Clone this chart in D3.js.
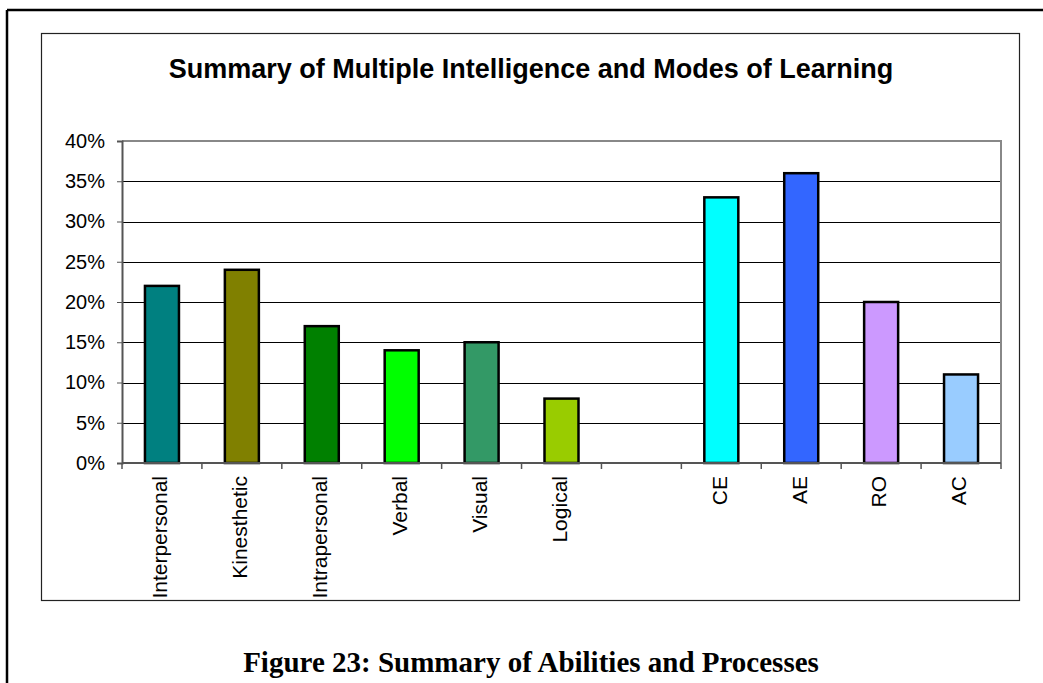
<!DOCTYPE html>
<html>
<head>
<script src="https://d3js.org/d3.v7.min.js" charset="utf-8"></script>
<style>
    body { margin: 0; background: #fff; }
    text { font-family: "Liberation Sans", Arial, sans-serif; }
</style>
</head>
<body>
<script>
    // data (blank slot separates the two groups)
    var categories = ["Interpersonal", "Kinesthetic", "Intrapersonal", "Verbal", "Visual", "Logical", "", "CE", "AE", "RO", "AC"];
    var values = [22, 24, 17, 14, 15, 8, null, 33, 36, 20, 11];
    var colors = ["#008080", "#808000", "#008000", "#00ff00", "#339966", "#99cc00", null, "#00ffff", "#3366ff", "#cc99ff", "#99ccff"];
    var yTicks = [0, 5, 10, 15, 20, 25, 30, 35, 40];

    var wid = 1043, hgt = 683;
    var pLeft = 122, pRight = 1001, pTop = 141, pBottom = 463;

    var svg = d3.select("body").append("svg")
        .attr("width", wid)
        .attr("height", hgt);

    // page frame
    svg.append("line").attr("x1", 7).attr("x2", wid).attr("y1", 10).attr("y2", 10)
        .attr("stroke", "#000").attr("stroke-width", 2.5);
    svg.append("line").attr("x1", 7).attr("x2", 7).attr("y1", 10).attr("y2", hgt)
        .attr("stroke", "#000").attr("stroke-width", 2.5);

    // chart box
    svg.append("rect").attr("x", 41.5).attr("y", 33.5).attr("width", 978).attr("height", 567)
        .attr("fill", "none").attr("stroke", "#222").attr("stroke-width", 1.2);

    svg.append("text")
        .attr("x", 531).attr("y", 78)
        .attr("text-anchor", "middle")
        .style("font-weight", "bold").style("font-size", "27px")
        .text("Summary of Multiple Intelligence and Modes of Learning");

    var x = d3.scaleBand().domain(d3.range(categories.length)).range([pLeft, pRight]);
    var y = d3.scaleLinear().domain([0, 40]).range([pBottom, pTop]);

    // gridlines
    svg.selectAll("line.grid")
        .data(yTicks.slice(1, -1))
        .enter().append("line")
        .attr("class", "grid")
        .attr("x1", pLeft).attr("x2", pRight)
        .attr("y1", function(d) { return Math.round(y(d)) + 0.5; })
        .attr("y2", function(d) { return Math.round(y(d)) + 0.5; })
        .attr("stroke", "#000").attr("stroke-width", 1);

    // plot border top/right
    svg.append("path")
        .attr("d", "M" + pLeft + "," + pTop + "H" + pRight + "V" + pBottom)
        .attr("fill", "none").attr("stroke", "#888").attr("stroke-width", 2);

    // bars
    var bw = 34;
    svg.selectAll("rect.bar")
        .data(values.map(function(v, i) { return { v: v, i: i }; }).filter(function(d) { return d.v !== null; }))
        .enter().append("rect")
        .attr("class", "bar")
        .attr("x", function(d) { return x(d.i) + x.bandwidth() / 2 - bw / 2; })
        .attr("y", function(d) { return y(d.v); })
        .attr("width", bw)
        .attr("height", function(d) { return pBottom - y(d.v); })
        .attr("fill", function(d) { return colors[d.i]; })
        .attr("stroke", "#000").attr("stroke-width", 2.5);

    // y axis
    var yAxis = svg.append("g")
        .attr("transform", "translate(" + pLeft + ",0)")
        .call(d3.axisLeft(y).tickValues(yTicks).tickSize(5).tickPadding(12)
            .tickFormat(function(d) { return d + "%"; }));
    yAxis.attr("font-family", null).attr("font-size", null);
    yAxis.select(".domain").attr("stroke", "#555").attr("stroke-width", 2);
    yAxis.selectAll(".tick line").attr("stroke", "#555");
    yAxis.selectAll("text").style("font-size", "20px").attr("fill", "#000");

    // x axis with boundary ticks
    var edges = d3.range(categories.length + 1).map(function(i) {
        return i < categories.length ? x(i) : pRight;
    });
    svg.append("line").attr("x1", pLeft).attr("x2", pRight).attr("y1", pBottom).attr("y2", pBottom)
        .attr("stroke", "#555").attr("stroke-width", 2);
    svg.selectAll("line.xtick")
        .data(edges).enter().append("line")
        .attr("class", "xtick")
        .attr("x1", function(d) { return d; }).attr("x2", function(d) { return d; })
        .attr("y1", pBottom).attr("y2", pBottom + 6)
        .attr("stroke", "#555").attr("stroke-width", 1.5);

    svg.selectAll("text.cat")
        .data(categories).enter().append("text")
        .attr("class", "cat")
        .attr("transform", function(d, i) {
            return "translate(" + (x(i) + x.bandwidth() / 2 - 2) + "," + (pBottom + 13) + ") rotate(-90)";
        })
        .attr("dy", "0.35em")
        .attr("text-anchor", "end")
        .style("font-size", "21px")
        .text(function(d) { return d; });

    // caption
    svg.append("text")
        .attr("x", 531).attr("y", 672)
        .attr("text-anchor", "middle")
        .style("font-family", "'Liberation Serif', 'Times New Roman', serif")
        .style("font-weight", "bold").style("font-size", "29px")
        .text("Figure 23: Summary of Abilities and Processes");
</script>
</body>
</html>
